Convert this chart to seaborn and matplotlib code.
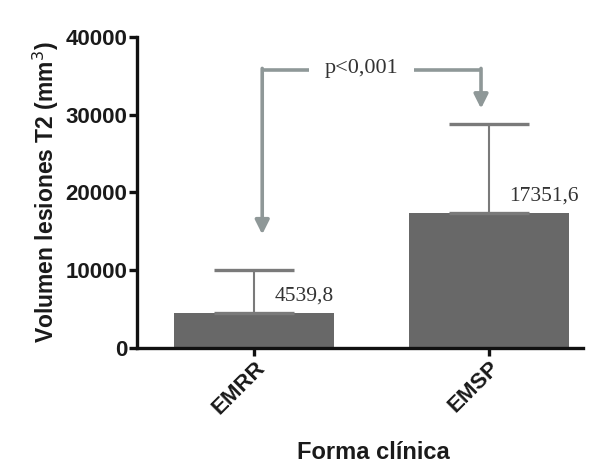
import matplotlib
matplotlib.use("Agg")
import matplotlib.pyplot as plt
import seaborn as sns
import pandas as pd

# Mean T2 lesion volume by clinical form, with upper SD
categories = ["EMRR", "EMSP"]
means = [4539.8, 17351.6]
sd_upper = [5500.0, 11450.0]
value_labels = ["4539,8", "17351,6"]
p_text = "p<0,001"

df = pd.DataFrame({"forma": categories, "volumen": means})

sns.set_theme(style="ticks")
plt.rcParams["font.family"] = ["Liberation Sans", "DejaVu Sans"]

fig = plt.figure(figsize=(6.11, 4.70), dpi=100)
ax = fig.add_axes([0.224, 0.26, 0.730, 0.661])

sns.barplot(data=df, x="forma", y="volumen", color="#686868", width=0.68,
            errorbar=None, ax=ax, saturation=1, edgecolor="none")

xs = list(range(len(categories)))
ax.errorbar(xs, means, yerr=[[0] * len(means), sd_upper], fmt="none",
            ecolor="#7a7a7a", elinewidth=1.5, capsize=29, capthick=2.4, zorder=3)

serif = ["Liberation Serif", "DejaVu Serif"]
for x, m, lab in zip(xs, means, value_labels):
    ax.text(x + 0.085, m + 900, lab, fontsize=15.5, family=serif,
            color="#333333", ha="left", va="bottom")

# significance bracket with arrows
arrow_col = "#8f9898"
y_top = 35800
x_l, x_r = 0.034, 0.966
ax.plot([x_l, 0.234], [y_top, y_top], color=arrow_col, lw=2.6,
        solid_capstyle="butt", clip_on=False)
ax.plot([0.68, x_r], [y_top, y_top], color=arrow_col, lw=2.6,
        solid_capstyle="butt", clip_on=False)
arrowprops = dict(arrowstyle="-|>,head_length=0.7,head_width=0.35",
                  color=arrow_col, lw=2.6, shrinkA=0, shrinkB=0)
ax.annotate("", xy=(x_l, 14600), xytext=(x_l, y_top + 170), arrowprops=arrowprops)
ax.annotate("", xy=(x_r, 30800), xytext=(x_r, y_top + 170), arrowprops=arrowprops)
ax.text(0.455, y_top + 200, p_text, fontsize=16, family=serif, color="#333333",
        ha="center", va="center")

ax.set_xlim(-0.5, 1.4)
ax.set_ylim(0, 40000)
ax.set_yticks([0, 10000, 20000, 30000, 40000])
ax.set_yticklabels(["0", "10000", "20000", "30000", "40000"])
ax.set_xticks(xs)
ax.set_xticklabels(categories, rotation=45, ha="right", rotation_mode="anchor")

for lab in ax.get_xticklabels() + ax.get_yticklabels():
    lab.set_fontweight("bold")
    lab.set_fontsize(16)
    lab.set_color("#1a1a1a")

ax.set_xlabel("Forma clínica", fontsize=17, fontweight="bold", color="#1a1a1a")
ax.xaxis.set_label_coords(0.53, -0.30)
ax.set_ylabel("Volumen lesiones T2 (mm$^3$)", fontsize=16.5, fontweight="bold",
              color="#1a1a1a", labelpad=3)

for s in ["top", "right"]:
    ax.spines[s].set_visible(False)
for s in ["left", "bottom"]:
    ax.spines[s].set_linewidth(2.4)
    ax.spines[s].set_color("#111111")
ax.tick_params(axis="both", width=2.4, length=6, color="#111111", pad=1)

fig.savefig("out.png", dpi=100)
